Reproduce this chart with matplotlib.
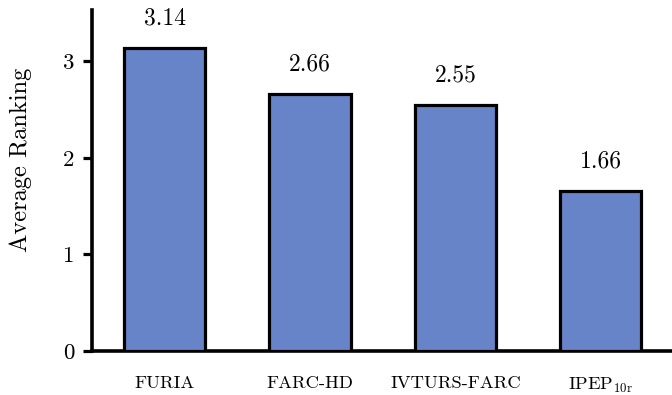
import matplotlib
matplotlib.use("Agg")
import matplotlib.pyplot as plt

categories = ["FURIA", "FARC-HD", "IVTURS-FARC", r"IPEP$_{\mathrm{10r}}$"]
values = [3.14, 2.66, 2.55, 1.66]
value_labels = ["3.14", "2.66", "2.55", "1.66"]
yticks = [0, 1, 2, 3]

plt.rcParams["font.family"] = ["cmr10", "DejaVu Serif"]
plt.rcParams["mathtext.fontset"] = "cm"
plt.rcParams["axes.formatter.use_mathtext"] = True

fig = plt.figure(figsize=(6.72, 3.95), dpi=100)
ax = fig.add_axes([92/672, 44/395, 1 - 92/672, 341/395 * 1.0])

x = range(len(categories))
ax.bar(x, values, width=0.56, color="#6884c8", edgecolor="black", linewidth=2.3, zorder=3)
for xi, v, lab in zip(x, values, value_labels):
    ax.annotate(lab, (xi, v), xytext=(0, 13), textcoords="offset points",
                ha="center", va="bottom", fontsize=17)

ax.set_xlim(-0.5, 3.49)
ax.set_ylim(0, 3.53)
ax.set_yticks(yticks)
ax.set_yticklabels([str(t) for t in yticks], fontsize=16.5)
ax.set_xticks(list(x))
ax.set_xticklabels(categories, fontsize=13.3)
ax.tick_params(axis="x", length=0, pad=18)
ax.tick_params(axis="y", length=6.5, width=2.3, direction="out", pad=6)
ax.set_ylabel("Average Ranking", fontsize=17.6)
ax.yaxis.set_label_coords(-0.104, 0.56)
for s in ["top", "right"]:
    ax.spines[s].set_visible(False)
for s in ["left", "bottom"]:
    ax.spines[s].set_linewidth(2.6)

fig.savefig("out.png", dpi=100)
